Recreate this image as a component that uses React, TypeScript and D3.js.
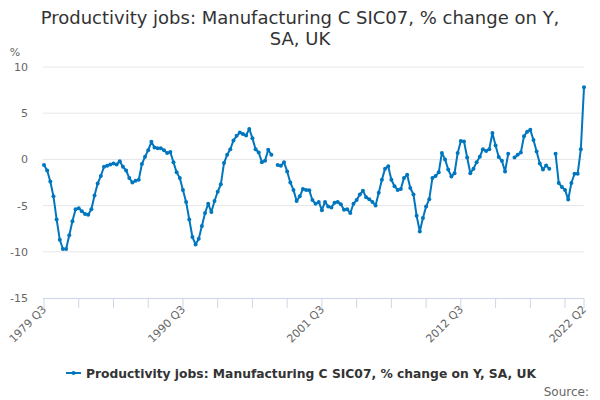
import React from "react";
import * as d3 from "d3";

const startYear = 1979;
const startQuarter = 3;
const values: (number | null)[] = [
  -0.6, -1.2, -2.4, -4.0, -6.5, -8.7, -9.7, -9.7, -8.2, -6.7,
  -5.4, -5.3, -5.6, -5.9, -6.0, -5.4, -3.9, -2.6, -1.8, -0.8,
  -0.7, -0.55, -0.45, -0.55, -0.2, -0.8, -1.2, -2.0, -2.5, -2.3,
  -2.2, -0.5, 0.3, 1.0, 1.9, 1.3, 1.2, 1.2, 1.0, 0.7,
  0.8, -0.3, -1.4, -2.0, -3.3, -4.6, -6.5, -8.4, -9.2, -8.6,
  -7.2, -5.8, -4.8, -5.7, -4.5, -3.5, -2.7, -0.4, 0.5, 1.1,
  2.05, 2.55, 2.9, 2.75, 2.6, 3.3, 2.3, 1.1, 0.75, -0.3,
  -0.15, 1.05, 0.5, null, -0.6, -0.7, -0.3, -1.3, -2.5, -3.3,
  -4.5, -4.0, -3.2, -3.3, -3.35, -4.4, -4.8, -4.6, -5.5, -4.6,
  -5.1, -5.2, -4.7, -4.6, -4.85, -5.45, -5.4, -5.8, -4.8, -4.4,
  -3.8, -3.4, -4.1, -4.3, -4.6, -5.0, -3.6, -2.2, -1.0, -0.75,
  -2.2, -2.9, -3.3, -3.2, -2.0, -1.65, -3.1, -3.8, -6.1, -7.8,
  -6.35, -5.1, -4.3, -2.0, -1.8, -1.4, 0.7, 0.0, -1.1, -1.85,
  -1.5, 0.7, 2.0, 1.95, 0.2, -1.5, -1.0, -0.3, 0.3, 1.1,
  0.9, 1.1, 2.85, 1.5, 0.25, -0.15, -1.3, 0.6, null, 0.2,
  0.5, 0.75, 2.5, 3.0, 3.2, 2.1, 0.85, -0.45, -1.1, -0.65,
  -1.0, null, 0.6, -2.55, -3.0, -3.3, -4.35, -2.55, -1.55, -1.55,
  1.1, 7.8,
];
const categories: string[] = values.map((_, i) => {
  const q = startQuarter - 1 + i;
  return `${startYear + Math.floor(q / 4)} Q${(q % 4) + 1}`;
});
const yTicks = [10, 5, 0, -5, -10, -15];
const titleLines = ["Productivity jobs: Manufacturing C SIC07, % change on Y,", "SA, UK"];
const seriesName = "Productivity jobs: Manufacturing C SIC07, % change on Y, SA, UK";

const FONT = "'DejaVu Sans', sans-serif";
const COLOR = "#0076bf";

export default function App() {
  const x = d3.scaleLinear().domain([0, values.length - 1]).range([44, 584]);
  const y = d3.scaleLinear().domain([-15, 10]).range([298, 67]);
  const tickIdx: number[] = [];
  for (let i = 0; i < values.length; i += 11) tickIdx.push(i);
  if (tickIdx[tickIdx.length - 1] !== values.length - 1) tickIdx.push(values.length - 1);
  const labelIdx = tickIdx.filter((i) => i % 44 === 0 || i === values.length - 1);
  const line = d3
    .line<number | null>()
    .defined((d) => d !== null)
    .x((_, i) => x(i))
    .y((d) => y(d as number));

  return (
    <svg width={600} height={400} style={{ position: "absolute", left: 0, top: 0 }} fontFamily={FONT}>
      <rect width={600} height={400} fill="#fff" />
      {titleLines.map((t, i) => (
        <text key={i} x={300} y={24 + i * 21} textAnchor="middle" fontSize={18} fill="#333">
          {t}
        </text>
      ))}
      <text x={15} y={56} textAnchor="middle" fontSize={11} fill="#666">%</text>
      {yTicks.map((t) => (
        <g key={t}>
          {t !== -15 && <line x1={43} x2={584} y1={y(t)} y2={y(t)} stroke="#e6e6e6" strokeWidth={1} />}
          <text x={28} y={y(t) + 4} textAnchor="end" fontSize={11} fill="#666">
            {t}
          </text>
        </g>
      ))}
      <line x1={43} x2={584} y1={y(-15) + 0.5} y2={y(-15) + 0.5} stroke="#ccd6eb" strokeWidth={1} />
      {tickIdx.map((i) => (
        <line key={i} x1={x(i)} x2={x(i)} y1={y(-15)} y2={y(-15) + 10} stroke="#ccd6eb" strokeWidth={1} />
      ))}
      {labelIdx.map((i) => (
        <text
          key={i}
          transform={`translate(${x(i) + 3},${y(-15) + 12}) rotate(-45)`}
          textAnchor="end"
          fontSize={11}
          fill="#666"
        >
          {categories[i]}
        </text>
      ))}
      <path d={line(values) || ""} fill="none" stroke={COLOR} strokeWidth={2} strokeLinejoin="round" />
      {values.map((v, i) =>
        v === null ? null : <circle key={i} cx={x(i)} cy={y(v)} r={2} fill={COLOR} />
      )}
      <g>
        <line x1={66} x2={81} y1={373} y2={373} stroke={COLOR} strokeWidth={2} />
        <circle cx={73.5} cy={373} r={2} fill={COLOR} />
        <text x={86} y={377.5} fontSize={12.3} fontWeight="bold" fill="#333">
          {seriesName}
        </text>
      </g>
      <text x={589} y={396} textAnchor="end" fontSize={12} fill="#666">
        Source:
      </text>
    </svg>
  );
}
